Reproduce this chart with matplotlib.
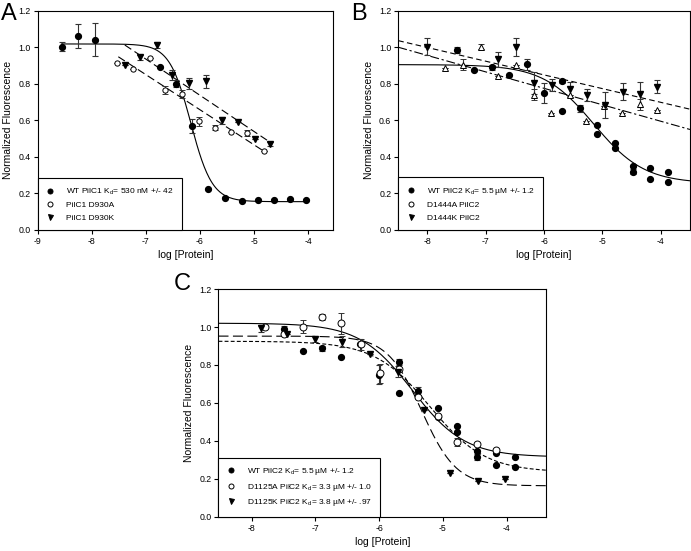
import numpy as np
import matplotlib
matplotlib.use("Agg")
import matplotlib.pyplot as plt
from matplotlib.lines import Line2D

plt.rcParams['font.family'] = ['Liberation Sans', 'DejaVu Sans']
plt.rcParams['mathtext.fontset'] = 'custom'
plt.rcParams['mathtext.rm'] = 'Liberation Sans'
plt.rcParams['mathtext.it'] = 'Liberation Sans:italic'

# ---------------- Panel A data ----------------
a_wt_x = [-8.56, -8.25, -7.94, -6.74, -6.45, -6.14, -5.85, -5.54, -5.23, -4.92, -4.63, -4.34, -4.04]
a_wt_y = [1.003, 1.06, 1.04, 0.894, 0.80, 0.57, 0.222, 0.173, 0.159, 0.164, 0.162, 0.168, 0.164]
a_wt_e = [0.025, 0.065, 0.09, 0.0, 0.02, 0.04, 0.0, 0.0, 0.0, 0.0, 0.0, 0.0, 0.0]
a_a_x = [-7.53, -7.23, -6.93, -6.64, -6.34, -6.02, -5.72, -5.43, -5.13, -4.82]
a_a_y = [0.916, 0.883, 0.939, 0.766, 0.744, 0.596, 0.56, 0.538, 0.53, 0.432]
a_a_e = [0.0, 0.0, 0.0, 0.02, 0.02, 0.025, 0.015, 0.0, 0.015, 0.0]
a_k_x = [-7.39, -7.10, -6.80, -6.51, -6.20, -5.89, -5.59, -5.29, -4.99, -4.70]
a_k_y = [0.903, 0.945, 1.012, 0.848, 0.802, 0.813, 0.60, 0.593, 0.50, 0.47]
a_k_e = [0.0, 0.015, 0.015, 0.025, 0.03, 0.035, 0.02, 0.0, 0.0, 0.01]
# fits: sigmoid (top, bottom, logx0, hill) and lines (slope, intercept, xstart, xend)
a_wt_fit = [1.018, 0.155, -6.17, 2.2]
a_wt_fit_range = [-8.56, -4.0]
a_a_line = [-0.192, -0.494, -7.51, -4.80]
a_k_line = [-0.198, -0.451, -7.39, -4.68]

# ---------------- Panel B data ----------------
b_wt_x = [-7.50, -7.20, -6.90, -6.60, -6.30, -6.00, -5.69, -5.69, -5.39, -5.09, -5.09,
          -4.78, -4.78, -4.48, -4.48, -4.18, -4.18, -3.87, -3.87]
b_wt_y = [0.985, 0.876, 0.89, 0.848, 0.908, 0.748, 0.817, 0.653, 0.666, 0.575, 0.524,
          0.478, 0.447, 0.35, 0.319, 0.338, 0.277, 0.319, 0.264]
b_wt_e = [0.015, 0.0, 0.015, 0.0, 0.03, 0.055, 0.01, 0.0, 0.02, 0.0, 0.0,
          0.0, 0.0, 0.0, 0.015, 0.0, 0.0, 0.0, 0.0]
b_a_x = [-7.70, -7.39, -7.09, -6.79, -6.48, -6.18, -5.875, -5.56, -5.28, -4.97, -4.66, -4.36, -4.06]
b_a_y = [0.888, 0.903, 1.003, 0.843, 0.903, 0.739, 0.642, 0.739, 0.598, 0.678, 0.642, 0.689, 0.657]
b_a_e = [0.0, 0.03, 0.015, 0.0, 0.0, 0.03, 0.0, 0.0, 0.0, 0.0, 0.0, 0.03, 0.0]
b_k_x = [-8.01, -6.79, -6.48, -6.18, -5.865, -5.56, -5.26, -4.95, -4.65, -4.36, -4.06]
b_k_y = [1.003, 0.934, 1.003, 0.806, 0.793, 0.77, 0.739, 0.684, 0.757, 0.742, 0.784]
b_k_e = [0.045, 0.04, 0.05, 0.06, 0.035, 0.04, 0.035, 0.07, 0.045, 0.07, 0.035]
b_wt_fit = [0.905, 0.255, -5.15, 1.0]
b_a_line = [-0.09, 0.235]
b_k_line = [-0.075, 0.3985]

# ---------------- Panel C data ----------------
c_wt_x = [-7.49, -7.19, -6.89, -6.59, -6.30, -6.00, -5.68, -5.68, -5.39, -5.07, -5.07,
          -4.77, -4.77, -4.47, -4.47, -4.17, -4.17, -3.87, -3.87]
c_wt_y = [0.988, 0.873, 0.887, 0.843, 0.908, 0.748, 0.817, 0.653, 0.664, 0.571, 0.527,
          0.478, 0.448, 0.348, 0.316, 0.334, 0.272, 0.316, 0.26]
c_wt_e = [0.015, 0.0, 0.015, 0.0, 0.03, 0.05, 0.015, 0.0, 0.02, 0.0, 0.0,
          0.0, 0.0, 0.0, 0.015, 0.0, 0.0, 0.0, 0.0]
c_a_x = [-7.79, -7.49, -7.19, -6.89, -6.59, -6.29, -5.99, -5.68, -5.39, -5.07, -4.77, -4.47, -4.17]
c_a_y = [1.001, 0.961, 1.001, 1.054, 1.019, 0.908, 0.756, 0.777, 0.629, 0.531, 0.395, 0.381, 0.352]
c_a_e = [0.0, 0.0, 0.035, 0.015, 0.055, 0.03, 0.05, 0.0, 0.0, 0.0, 0.02, 0.0, 0.0]
c_k_x = [-7.86, -7.44, -7.01, -6.58, -6.14, -5.71, -5.30, -4.88, -4.45, -4.02]
c_k_y = [0.993, 0.963, 0.935, 0.922, 0.857, 0.764, 0.562, 0.232, 0.19, 0.197]
c_k_e = [0.02, 0.0, 0.015, 0.03, 0.0, 0.03, 0.0, 0.0, 0.0, 0.0]
c_wt_fit = [0.925, 0.235, -5.2, 1.0]
c_a_fit = [1.02, 0.315, -5.48, 1.05]
c_k_fit = [0.952, 0.163, -5.33, 1.6]

y_ticks = [0.0, 0.2, 0.4, 0.6, 0.8, 1.0, 1.2]


def sigmoid(x, p):
    top, bot, x0, h = p
    return bot + (top - bot) / (1.0 + 10 ** (h * (x - x0)))


fig = plt.figure(figsize=(6.91, 5.51), dpi=100)

ms = 4.2
ecol = '#333333'
eb_kw = dict(ecolor=ecol, elinewidth=0.8, capsize=2.4, capthick=0.8, linestyle='none', zorder=2)


def filled_circle(ax, x, y, e):
    ax.errorbar(x, y, yerr=e, marker='o', ms=ms, mfc='black', mec='black', **eb_kw)


def open_circle(ax, x, y, e, s=ms):
    ax.errorbar(x, y, yerr=e, marker='o', ms=s, mfc='white', mec='black', mew=0.7, **eb_kw)


def filled_tri(ax, x, y, e):
    ax.errorbar(x, y, yerr=e, marker='v', ms=ms + 0.6, mfc='black', mec='black', **eb_kw)


def open_tri(ax, x, y, e):
    ax.errorbar(x, y, yerr=e, marker='^', ms=ms + 0.4, mfc='white', mec='black', mew=0.7, **eb_kw)


def style(ax, xlim, xticks):
    ax.set_xlim(*xlim)
    ax.set_ylim(0, 1.2)
    ax.set_xticks(xticks)
    ax.set_xticklabels([str(t) for t in xticks])
    ax.set_yticks(y_ticks)
    ax.set_yticklabels([f"{t:.1f}" for t in y_ticks])
    ax.tick_params(direction='out', length=3, width=0.8, labelsize=6.3, pad=2,
                   top=False, right=False)
    for s in ax.spines.values():
        s.set_linewidth(0.8)
    ax.set_xlabel('log [Protein]', fontsize=7.5, labelpad=3)
    ax.set_ylabel('Normalized Fluorescence', fontsize=7.5, labelpad=4)


def legend(ax, labels, markers):
    handles = []
    for m, face in markers:
        handles.append(Line2D([], [], linestyle='none', marker=m, ms=3.6, mfc=face,
                              mec='black', mew=0.7))
    leg = ax.legend(handles, labels, loc='lower left', bbox_to_anchor=(0, 0),
                    borderaxespad=0, fancybox=False, edgecolor='black', framealpha=1,
                    fontsize=6, handlelength=1.0, handletextpad=1.4, labelspacing=0.55,
                    borderpad=1.0)
    leg.get_frame().set_linewidth(0.8)
    leg.set_zorder(5)


# ---------------- Panel A ----------------
axA = fig.add_axes([0.0546, 0.5826, 0.4273, 0.398])
xs = np.linspace(a_wt_fit_range[0], a_wt_fit_range[1], 300)
axA.plot(xs, sigmoid(xs, a_wt_fit), color='black', lw=0.8, zorder=1)
for ln in (a_a_line, a_k_line):
    xl = np.array([ln[2], ln[3]])
    axA.plot(xl, ln[0] * xl + ln[1], color='black', lw=0.8, dashes=(7, 3.5), zorder=1)
filled_circle(axA, a_wt_x, a_wt_y, a_wt_e)
open_circle(axA, a_a_x, a_a_y, a_a_e, s=3.8)
filled_tri(axA, a_k_x, a_k_y, a_k_e)
style(axA, (-9, -3.54), [-9, -8, -7, -6, -5, -4])
legend(axA, ['WT PilC1 K$_\\mathrm{d}$= 530 nM +/- 42', 'PilC1 D930A', 'PilC1 D930K'],
       [('o', 'black'), ('o', 'white'), ('v', 'black')])

# ---------------- Panel B ----------------
axB = fig.add_axes([0.5764, 0.5826, 0.4221, 0.398])
xs = np.linspace(-8.5, -3.5, 300)
axB.plot(xs, sigmoid(xs, b_wt_fit), color='black', lw=0.8, zorder=1)
axB.plot(xs, b_k_line[0] * xs + b_k_line[1], color='black', lw=0.8, dashes=(5, 3), zorder=1)
axB.plot(xs, b_a_line[0] * xs + b_a_line[1], color='black', lw=0.8, dashes=(8, 2.5, 2, 2.5), zorder=1)
filled_circle(axB, b_wt_x, b_wt_y, b_wt_e)
open_tri(axB, b_a_x, b_a_y, b_a_e)
filled_tri(axB, b_k_x, b_k_y, b_k_e)
style(axB, (-8.5, -3.5), [-8, -7, -6, -5, -4])
legend(axB, ['WT PilC2 K$_\\mathrm{d}$= 5.5 µM +/- 1.2', 'D1444A PilC2', 'D1444K PilC2'],
       [('o', 'black'), ('o', 'white'), ('v', 'black')])

# ---------------- Panel C ----------------
axC = fig.add_axes([0.3162, 0.0622, 0.474, 0.4132])
xs = np.linspace(-8.52, -3.38, 300)
axC.plot(xs, sigmoid(xs, c_a_fit), color='black', lw=0.8, zorder=1)
axC.plot(xs, sigmoid(xs, c_wt_fit), color='black', lw=0.8, dashes=(3.5, 2), zorder=1)
axC.plot(xs, sigmoid(xs, c_k_fit), color='black', lw=0.8, dashes=(9, 4), zorder=1)
filled_circle(axC, c_wt_x, c_wt_y, c_wt_e)
open_circle(axC, c_a_x, c_a_y, c_a_e, s=5)
filled_tri(axC, c_k_x, c_k_y, c_k_e)
style(axC, (-8.52, -3.38), [-8, -7, -6, -5, -4])
legend(axC, ['WT PilC2 K$_\\mathrm{d}$= 5.5 µM +/- 1.2',
             'D1125A PilC2 K$_\\mathrm{d}$= 3.3 µM +/- 1.0',
             'D1125K PilC2 K$_\\mathrm{d}$= 3.8 µM +/- .97'],
       [('o', 'black'), ('o', 'white'), ('v', 'black')])

# panel letters
fig.text(0.002, 0.995, 'A', fontsize=17, va='top', ha='left')
fig.text(0.508, 0.995, 'B', fontsize=17, va='top', ha='left')
fig.text(0.252, 0.505, 'C', fontsize=17, va='top', ha='left')

fig.savefig('out.png', dpi=100)
